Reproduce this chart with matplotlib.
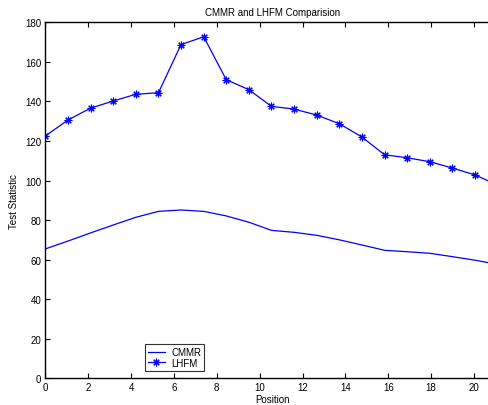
import matplotlib
matplotlib.use('Agg')
import matplotlib.pyplot as plt

# data
position = [0.0, 1.06, 2.11, 3.17, 4.22, 5.28, 6.33, 7.39, 8.44, 9.50, 10.55,
            11.61, 12.66, 13.72, 14.77, 15.83, 16.88, 17.94, 18.99, 20.05, 21.10]
cmmr = [65.4, 69.4, 73.5, 77.5, 81.4, 84.4, 85.1, 84.4, 82.1, 78.9, 74.8,
        73.8, 72.3, 70.0, 67.4, 64.7, 64.0, 63.2, 61.5, 59.7, 57.6]
lhfm = [122.5, 130.6, 136.6, 140.2, 143.6, 144.4, 168.7, 172.7, 151.0, 145.9, 137.5,
        136.1, 133.1, 128.7, 122.0, 113.0, 111.5, 109.5, 106.3, 102.8, 97.7]

plt.rcParams['font.family'] = ['Liberation Sans', 'DejaVu Sans']
plt.rcParams['font.size'] = 7

fig = plt.figure(figsize=(4.89, 4.06), dpi=100)
ax = fig.add_axes([0.0926, 0.0658, 1.022 - 0.0926, 0.9426 - 0.0658])

ax.plot(position, cmmr, color='#0000ff', lw=0.9, label='CMMR')
ax.plot(position, lhfm, color='#0000ff', lw=0.9, marker=(8, 2, 0), ms=5.5,
        markeredgewidth=0.8, label='LHFM')

ax.set_xlim(0, 21.2)
ax.set_ylim(0, 180)
ax.set_xticks(range(0, 21, 2))
ax.set_yticks(range(0, 181, 20))
ax.tick_params(direction='in', length=3.6, width=0.8, top=True, right=True,
               labelsize=7, pad=3)
for side in ['left', 'bottom', 'top']:
    ax.spines[side].set_linewidth(1.0)
ax.spines['right'].set_visible(False)

ax.set_title('CMMR and LHFM Comparision', fontsize=7, pad=5)
ax.set_xlabel('Position', labelpad=1)
ax.set_ylabel('Test Statistic', labelpad=4)

leg = ax.legend(loc='lower left', bbox_to_anchor=(0.220, 0.021), fontsize=7,
                frameon=True, fancybox=False, edgecolor='black',
                borderpad=0.3, labelspacing=0.05, handlelength=1.7,
                handletextpad=0.7, borderaxespad=0)
leg.get_frame().set_linewidth(0.8)

fig.savefig('out.png', dpi=100)
